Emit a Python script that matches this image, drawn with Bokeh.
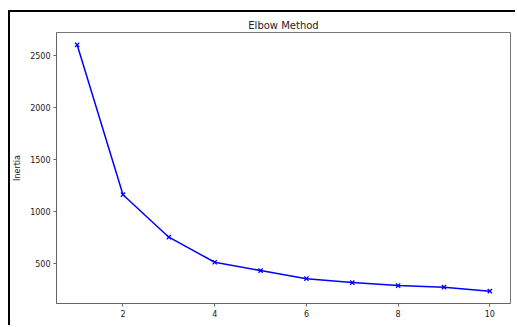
from bokeh.plotting import figure
from bokeh.models import FixedTicker, Range1d, Label
from bokeh.embed import file_html
from bokeh.resources import INLINE

k_values = [1, 2, 3, 4, 5, 6, 7, 8, 9, 10]
inertia = [2606, 1160, 750, 508, 428, 350, 312, 283, 268, 229]
x_ticks = [2, 4, 6, 8, 10]
y_ticks = [500, 1000, 1500, 2000, 2500]

span_x = max(k_values) - min(k_values)
span_y = max(inertia) - min(inertia)
x0, x1 = min(k_values) - 0.05 * span_x, max(k_values) + 0.05 * span_x
y0, y1 = min(inertia) - 0.05 * span_y, max(inertia) + 0.05 * span_y

p = figure(width=507, height=315, output_backend="svg", toolbar_location=None,
           x_range=Range1d(x0, x1), y_range=Range1d(y0, y1),
           title="Elbow Method",
           min_border_left=45, min_border_right=7, min_border_top=20, min_border_bottom=24,
           styles={"border-top": "2px solid black", "border-left": "2px solid black",
                   "margin-left": "8px", "margin-top": "10px"})

p.line(k_values, inertia, line_color="#0000ff", line_width=1.5)
p.scatter(k_values, inertia, marker="x", size=6, line_color="#0000ff", line_width=1.3)

p.title.align = "center"
p.title.text_font = "DejaVu Sans"
p.title.text_font_style = "normal"
p.title.text_font_size = "10px"
p.title.text_color = "#222222"
p.title.offset = 0
p.title.standoff = 3

p.xgrid.visible = False
p.ygrid.visible = False
p.outline_line_color = "#777777"
p.outline_line_width = 1

for ax in (p.xaxis[0], p.yaxis[0]):
    ax.axis_line_color = "#666666"
    ax.major_tick_line_color = "#666666"
    ax.minor_tick_line_color = None
    ax.major_tick_out = 3
    ax.major_tick_in = 0
    ax.major_label_text_font = "DejaVu Sans"
    ax.major_label_text_font_size = "8px"
    ax.major_label_text_color = "#222222"
    ax.axis_label_text_font = "DejaVu Sans"
    ax.axis_label_text_font_size = "8px"
    ax.axis_label_text_font_style = "normal"
    ax.axis_label_text_color = "#222222"
    ax.major_label_standoff = 3
    ax.axis_label_standoff = 5

p.xaxis.ticker = FixedTicker(ticks=x_ticks)
p.yaxis.ticker = FixedTicker(ticks=y_ticks)
p.yaxis.axis_label = "Inertia"

p.add_layout(Label(x=(x0 + x1) / 2, y=y0, y_offset=-14, text="K",
                   text_align="center", text_baseline="top",
                   text_font="DejaVu Sans", text_font_size="8px", text_color="#222222"))

open("out.html", "w").write(file_html(p, INLINE))
